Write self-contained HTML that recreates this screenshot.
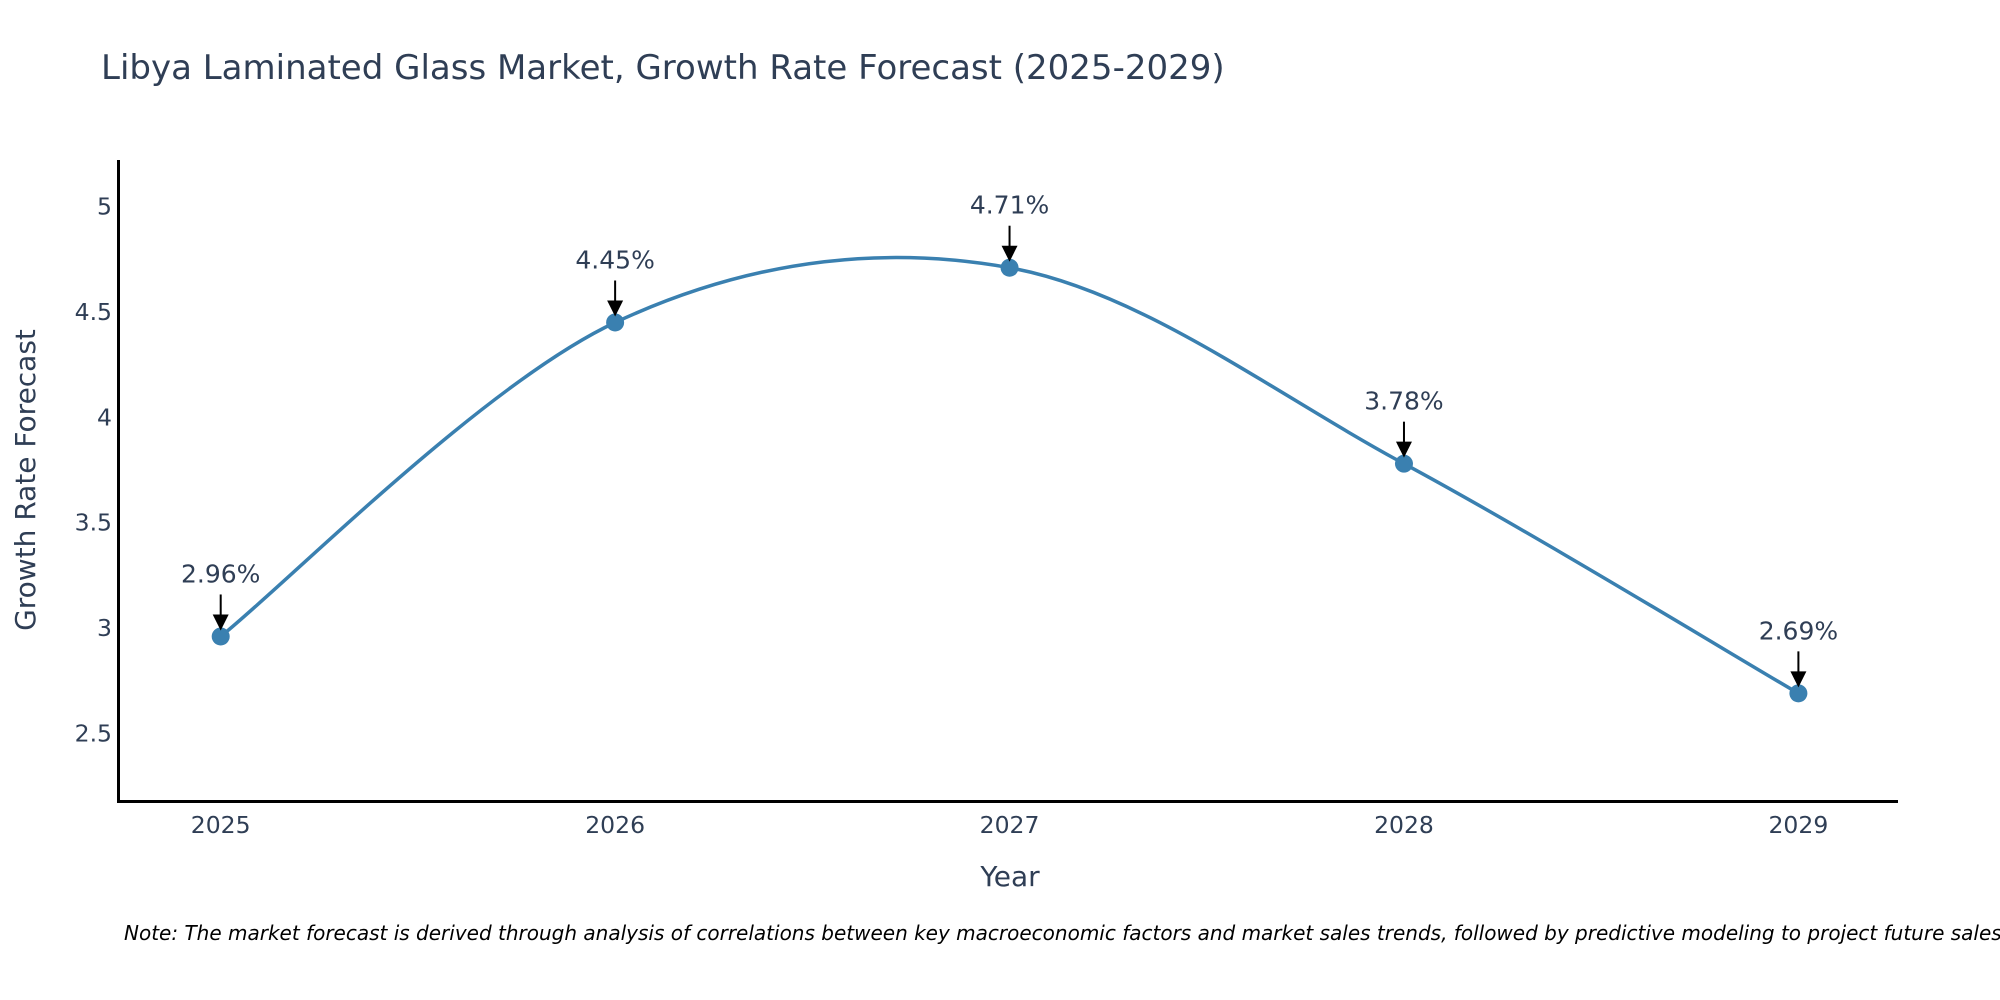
<!DOCTYPE html>
<html><head><meta charset="utf-8"><style>
html,body{margin:0;padding:0;background:#fff;}
svg{display:block;font-family:"DejaVu Sans","Liberation Sans",sans-serif;}
</style></head><body>
<svg id="chart" width="2000" height="1000" viewBox="0 0 2000 1000">
<rect width="2000" height="1000" fill="#fff"/>
<text x="101" y="79" font-size="34" fill="#2f3e55">Libya Laminated Glass Market, Growth Rate Forecast (2025-2029)</text>
<g id="yticks"></g>
<g id="xticks"></g>
<line x1="118.5" y1="160" x2="118.5" y2="802" stroke="#000" stroke-width="3"/>
<line x1="117" y1="801.5" x2="1898" y2="801.5" stroke="#000" stroke-width="3"/>
<text x="35" y="480" font-size="28" fill="#2f3e55" text-anchor="middle" transform="rotate(-90 35 480)">Growth Rate Forecast</text>
<text x="1010" y="886" font-size="28" fill="#2f3e55" text-anchor="middle">Year</text>
<g id="series"></g>
<g id="annots"></g>
<text x="124" y="940" font-size="20" font-style="italic" fill="#000">Note: The market forecast is derived through analysis of correlations between key macroeconomic factors and market sales trends, followed by predictive modeling to project future sales.</text>
</svg>
<script>
const years = [2025, 2026, 2027, 2028, 2029];
const values = [2.96, 4.45, 4.71, 3.78, 2.69];
const labels = ["2.96%", "4.45%", "4.71%", "3.78%", "2.69%"];
const yTicks = [2.5, 3, 3.5, 4, 4.5, 5];
const yTickLabels = ["2.5", "3", "3.5", "4", "4.5", "5"];

const NS = "http://www.w3.org/2000/svg";
function xs(v){ return 220.7 + (v - 2025) * (1798.4 - 220.7) / 4; }
function ys(v){ return 733.4 - (v - 2.5) * (733.4 - 206.6) / 2.5; }
function mk(tag, attrs, parent){ const e = document.createElementNS(NS, tag); for (const k in attrs) e.setAttribute(k, attrs[k]); parent.appendChild(e); return e; }

const yt = document.getElementById('yticks');
yTicks.forEach((t, i) => {
  const e = mk('text', {x: 112, y: ys(t) + 8, 'font-size': 23.5, fill: '#2f3e55', 'text-anchor': 'end'}, yt);
  
  
  e.textContent = yTickLabels[i];
});
const xt = document.getElementById('xticks');
years.forEach(y => {
  const e = mk('text', {x: xs(y), y: 833, 'font-size': 23.5, fill: '#2f3e55', 'text-anchor': 'middle'}, xt);
  
  
  e.textContent = String(y);
});

const pts = years.map((y, i) => [xs(y), ys(values[i])]);
let d = `M${pts[0][0]},${pts[0][1]}`;
for (let i = 0; i < pts.length - 1; i++) {
  const p0 = pts[Math.max(0, i - 1)], p1 = pts[i], p2 = pts[i + 1], p3 = pts[Math.min(pts.length - 1, i + 2)];
  const c1 = [p1[0] + (p2[0] - p0[0]) / 6, p1[1] + (p2[1] - p0[1]) / 6];
  const c2 = [p2[0] - (p3[0] - p1[0]) / 6, p2[1] - (p3[1] - p1[1]) / 6];
  d += ` C${c1[0]},${c1[1]} ${c2[0]},${c2[1]} ${p2[0]},${p2[1]}`;
}
const s = document.getElementById('series');
const line = mk('path', {d: d, fill: 'none', stroke: '#3a80b0', 'stroke-width': 3.5}, s);


pts.forEach(p => {
  const c = mk('circle', {cx: p[0], cy: p[1], r: 9, fill: '#3a80b0'}, s);
  
  
});

const an = document.getElementById('annots');
pts.forEach((p, i) => {
  const l = mk('line', {x1: p[0], y1: p[1] - 42, x2: p[0], y2: p[1] - 18, stroke: '#000', 'stroke-width': 2}, an);
  
  
  const h = mk('polygon', {points: `${p[0]-8},${p[1]-22} ${p[0]+8},${p[1]-22} ${p[0]},${p[1]-6}`, fill: '#000'}, an);
  
  
  const t = mk('text', {x: p[0], y: p[1] - 54, 'font-size': 25, fill: '#2f3e55', 'text-anchor': 'middle'}, an);
  
  
  t.textContent = labels[i];
});
</script>
</body></html>
